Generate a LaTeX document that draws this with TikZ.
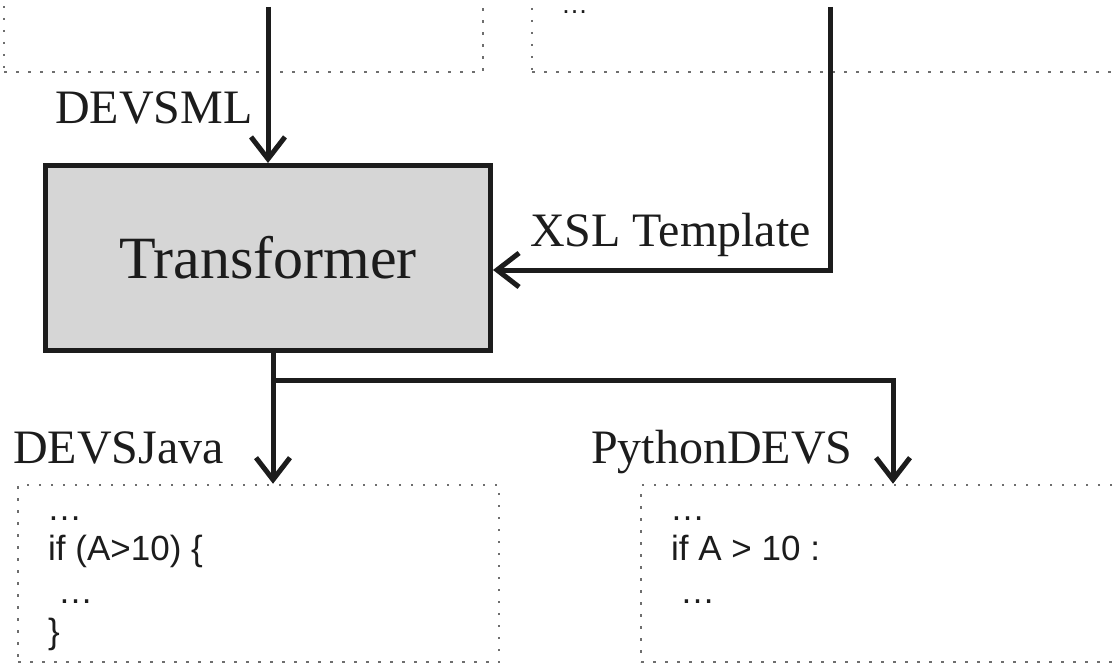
\documentclass[tikz,border=0pt]{standalone}
\usepackage{fontspec}
\setmainfont{Liberation Serif}
\newfontfamily\codefont{Liberation Sans}
\usetikzlibrary{arrows.meta}

\definecolor{ink}{HTML}{1C1C1C}
\definecolor{dotgray}{HTML}{6E6E6E}
\definecolor{boxfill}{HTML}{D6D6D6}

\tikzset{
  dotbox/.style={rectangle, draw=dotgray, line width=2.5pt,
                 dash pattern=on 2.5pt off 9.5pt, inner sep=0pt},
  procbox/.style={rectangle, draw=ink, fill=boxfill, line width=5pt,
                  inner sep=0pt, text=ink,
                  font=\fontsize{60}{62}\selectfont},
  wire/.style={draw=ink, line width=5pt, line join=miter},
  flow/.style={wire, -{Straight Barb[length=22pt,width=34pt]}},
  flowlabel/.style={inner sep=0pt, anchor=base west, text=ink,
                    font=\fontsize{48}{50}\selectfont},
  codeline/.style={inner sep=0pt, anchor=base west, text=ink,
                   font=\codefont\fontsize{35}{37}\selectfont},
}

\begin{document}
\begin{tikzpicture}[x=1pt, y=1pt]
  \path[use as bounding box] (0,0) rectangle (1116,-663);
  \clip (0,0) rectangle (1116,-663);

  % source documents (cut by the upper edge)
  \node[dotbox, minimum width=479pt, minimum height=112pt] (srcA) at (243.5,-16) {};
  \node[dotbox, minimum width=598pt, minimum height=112pt] (srcB) at (831,-16) {};
  \node[inner sep=0pt, anchor=base west, text=ink,
        font=\codefont\fontsize{27}{29}\selectfont] (srcBdots) at (561,-14) {…};

  % transformer
  \node[procbox, minimum width=445pt, minimum height=185pt] (tr) at (268,-258) {Transformer};

  % generated code
  \node[dotbox, minimum width=481pt, minimum height=177pt] (outA) at (258.5,-573.5) {};
  \node[dotbox, minimum width=489pt, minimum height=177pt] (outB) at (885.5,-573.5) {};

  \node[codeline] (a1) at (47,-520) {…};
  \node[codeline] (a2) at (48,-560) {if (A>10) \{};
  \node[codeline] (a3) at (58,-603) {…};
  \node[codeline] (a4) at (48,-643) {\}};

  \node[codeline] (b1) at (670,-520) {…};
  \node[codeline] (b2) at (671,-560) {if A > 10 :};
  \node[codeline] (b3) at (680,-603) {…};

  % connector end points
  \coordinate (inA) at (268,-7);
  \coordinate (inB) at (830,-7);
  \coordinate (bendB) at (830,-270);
  \coordinate (split) at (273,-380);
  \coordinate (turnB) at (893,-380);

  % connectors
  \draw[flow] (inA) -- (inA |- tr.north);
  \draw[flow] (inB) -- (bendB) -- (bendB -| tr.east);
  \draw[flow] (split |- tr.south) -- (split |- outA.north);
  \draw[flow] (split) -- (turnB) -- (turnB |- outB.north);

  % connector labels
  \node[flowlabel] (lDevsml) at (55,-124) {DEVSML};
  \node[flowlabel] (lXsl) at (530,-247) {XSL Template};
  \node[flowlabel] (lJava) at (13,-463) {DEVSJava};
  \node[flowlabel] (lPy) at (591,-463) {PythonDEVS};
\end{tikzpicture}
\end{document}
